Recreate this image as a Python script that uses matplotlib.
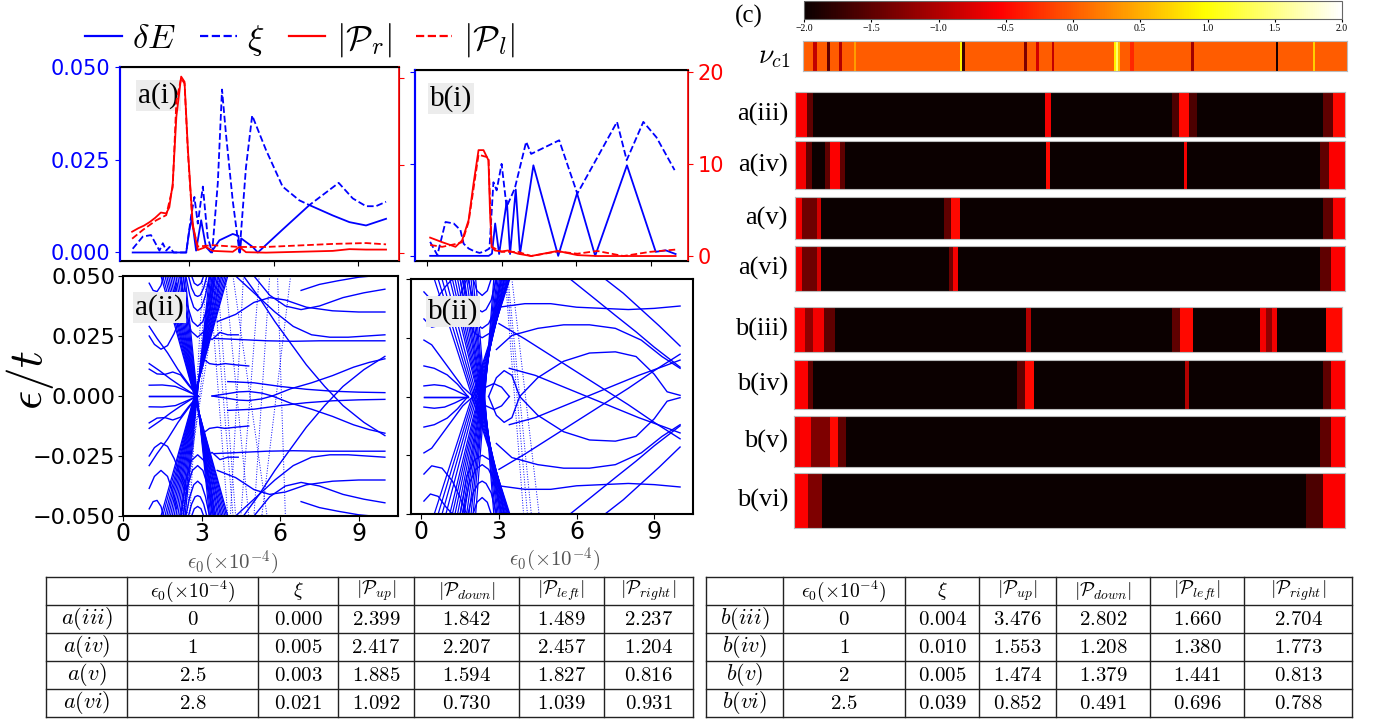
import numpy as np
import matplotlib
matplotlib.use("Agg")
import matplotlib.pyplot as plt
from matplotlib.lines import Line2D

plt.rcParams["mathtext.fontset"] = "cm"

W, H = 1379, 721
SERIF = "Liberation Serif"

# ---------------- a(i) / b(i) data ----------------
ai_dE_x = [1.0, 2.9, 3.01, 3.1, 3.25, 3.37, 3.43, 3.6, 3.78, 4.08, 4.55, 4.75, 4.81, 4.85, 5.26, 5.44, 6.32, 7.27, 8.1, 8.69, 9.28, 9.99]
ai_dE_y = [0.0, 0.0, 0.006, 0.0092, 0.0005, 0.006, 0.0087, 0.0015, 0.0, 0.0033, 0.005, 0.0045, 0.0, 0.0038, 0.0015, 0.0, 0.0062, 0.0128, 0.010, 0.0082, 0.0073, 0.0091]
ai_xi_x = [1.0, 1.36, 1.65, 1.95, 2.07, 2.19, 2.31, 2.45, 2.9, 3.07, 3.19, 3.31, 3.49, 3.66, 3.82, 4.02, 4.17, 4.31, 4.55, 4.79, 5.02, 5.24, 5.73, 6.32, 6.91, 7.27, 8.31, 8.81, 9.28, 9.63, 9.99]
ai_xi_y = [0.001, 0.0043, 0.0047, 0.0005, 0.0025, 0.0005, 0.0015, 0.0, 0.0, 0.0097, 0.015, 0.0078, 0.0178, 0.0042, 0.0, 0.0187, 0.044, 0.032, 0.014, 0.0, 0.023, 0.037, 0.0277, 0.0178, 0.0141, 0.0128, 0.0188, 0.0146, 0.0125, 0.0125, 0.0137]
ai_pr_x = [0.98, 1.2, 1.4, 1.6, 1.8, 2.0, 2.19, 2.3, 2.42, 2.55, 2.72, 2.84, 2.96, 3.13, 3.31, 3.6, 3.84, 4.55, 4.79, 5.02, 5.73, 8.1, 8.69, 9.28, 9.99]
ai_pr_y = [2.4, 2.8, 3.1, 3.5, 4.0, 4.6, 4.5, 5.2, 7.9, 15.6, 20.2, 19.6, 11.8, 3.3, 0.3, 0.65, 0.2, 0.1, 0.65, 0.05, 0.0, 0.2, 0.4, 0.35, 0.35]
ai_pl_x = [0.98, 1.36, 1.83, 2.19, 2.42, 2.55, 2.72, 2.84, 2.96, 3.13, 3.31, 3.84, 4.79, 5.73, 8.1, 9.28, 9.99]
ai_pl_y = [1.6, 2.6, 3.7, 4.3, 7.5, 17.4, 20.0, 19.4, 11.5, 3.0, 0.7, 0.85, 0.65, 0.65, 1.0, 1.1, 0.95]

bi_dE_x = [0.11, 2.47, 2.6, 2.73, 2.89, 3.2, 3.33, 3.56, 3.73, 4.27, 5.27, 6.03, 6.76, 8.04, 9.2, 9.6, 10.0]
bi_dE_y = [0.0, 0.0, 0.0006, 0.0088, 0.0005, 0.015, 0.0005, 0.018, 0.0005, 0.0246, 0.0, 0.017, 0.0, 0.0246, 0.0011, 0.0015, 0.0005]
bi_xi_x = [0.11, 0.4, 0.73, 1.06, 1.33, 1.46, 1.66, 1.9, 2.1, 2.3, 2.5, 2.66, 2.79, 2.99, 3.19, 3.52, 3.98, 4.18, 5.31, 6.04, 7.64, 8.03, 8.7, 9.23, 9.96]
bi_xi_y = [0.0038, 0.0002, 0.0092, 0.0088, 0.007, 0.0033, 0.002, 0.0012, 0.0008, 0.0012, 0.002, 0.020, 0.0178, 0.025, 0.0133, 0.0183, 0.031, 0.0277, 0.0314, 0.0169, 0.0364, 0.026, 0.0364, 0.0322, 0.0233]
bi_pr_x = [0.11, 0.6, 1.13, 1.4, 1.66, 1.86, 2.06, 2.26, 2.46, 2.52, 2.59, 2.72, 2.99, 3.25, 3.65, 4.18, 5.25, 6.04, 6.84, 7.9, 10.0]
bi_pr_y = [2.0, 1.5, 1.0, 1.7, 3.9, 7.9, 11.5, 11.5, 10.4, 5.0, 1.0, 0.6, 0.5, 0.6, 0.25, 0.0, 0.55, 0.1, 0.0, 0.0, 0.0]
bi_pl_x = [0.11, 0.6, 1.13, 1.4, 1.66, 2.06, 2.46, 2.59, 2.99, 3.65, 4.18, 5.25, 6.04, 6.84, 7.9, 8.96, 10.0]
bi_pl_y = [1.2, 1.0, 1.3, 1.5, 3.7, 11.0, 10.7, 1.0, 0.45, 0.45, 0.0, 0.5, 0.25, 0.55, 0.0, 0.45, 0.7]

# ---------------- a(ii) / b(ii) spectra (upper half, mirrored) ----------------
aii_curves = [
    ([1.0, 1.4, 1.8, 2.2, 2.6, 2.85], [0.0135, 0.0105, 0.0072, 0.0042, 0.0014, 0.0]),
    ([1.0, 1.3, 1.6, 1.9, 2.2, 2.5, 2.85], [0.0112, 0.0092, 0.0090, 0.0100, 0.0088, 0.0045, 0.0]),
    ([1.0, 1.5, 2.0, 2.4, 2.85], [0.0045, 0.0046, 0.0040, 0.0022, 0.0]),
    ([1.0, 2.85], [0.0, 0.0]),
    ([1.0, 1.3, 1.7, 2.1, 2.5, 2.85], [0.029, 0.024, 0.018, 0.011, 0.005, 0.0]),
    ([1.0, 1.2, 1.45, 1.7, 1.95, 2.2, 2.4], [0.025, 0.0215, 0.0195, 0.021, 0.026, 0.033, 0.039]),
    ([1.0, 1.2, 1.45, 1.7, 1.9, 2.05], [0.0385, 0.0335, 0.031, 0.0335, 0.040, 0.047]),
    ([1.0, 1.15, 1.3, 1.45, 1.55], [0.047, 0.044, 0.0435, 0.046, 0.05]),
    ([2.2, 2.4, 2.6, 2.85, 3.1, 3.3, 3.5], [0.05, 0.035, 0.027, 0.0245, 0.027, 0.035, 0.05]),
    ([2.3, 2.45, 2.65, 2.85, 3.05, 3.25, 3.45], [0.05, 0.038, 0.031, 0.029, 0.031, 0.038, 0.05]),
    ([2.4, 2.55, 2.7, 2.85, 3.0, 3.15, 3.3], [0.05, 0.042, 0.037, 0.0355, 0.037, 0.042, 0.05]),
    ([2.5, 2.62, 2.75, 2.85, 2.95, 3.08, 3.2], [0.05, 0.045, 0.042, 0.0415, 0.042, 0.045, 0.05]),
    ([2.62, 2.72, 2.85, 2.98, 3.08], [0.05, 0.047, 0.046, 0.047, 0.05]),
    ([3.0, 3.3, 3.6, 3.9, 4.3, 4.8], [0.016, 0.0135, 0.013, 0.0135, 0.013, 0.0125]),
    ([3.1, 3.4, 3.7, 4.0, 4.4], [0.026, 0.0235, 0.0265, 0.0255, 0.0255]),
    ([3.4, 4.0, 4.4, 4.8, 5.3, 5.7], [0.0, 0.001, 0.0017, 0.0019, 0.0012, 0.0]),
    ([3.5, 4.5, 5.5, 6.5, 7.5, 8.5, 10.0], [0.024, 0.0235, 0.023, 0.0228, 0.023, 0.023, 0.023]),
    ([4.3, 5.0, 5.8, 6.5, 7.2, 7.9, 8.6, 9.3, 10.0], [0.05, 0.043, 0.035, 0.029, 0.0255, 0.0245, 0.0245, 0.025, 0.0255]),
    ([3.6, 4.3, 5.0, 5.6, 6.2, 7.0, 8.0, 9.0, 10.0], [0.031, 0.034, 0.039, 0.041, 0.040, 0.037, 0.0355, 0.035, 0.035]),
    ([5.0, 5.6, 6.2, 6.8, 7.5, 8.4, 9.2, 10.0], [0.05, 0.042, 0.0375, 0.036, 0.0375, 0.041, 0.043, 0.0445]),
    ([6.8, 7.5, 8.2, 9.0, 10.0], [0.044, 0.0465, 0.048, 0.0495, 0.0505]),
    ([4.6, 5.2, 5.8, 6.4, 7.0, 7.7, 8.4, 9.2, 10.0], [0.05, 0.041, 0.031, 0.022, 0.013, 0.004, -0.004, -0.011, -0.0165]),
    ([5.7, 6.4, 7.2, 8.0, 8.8, 9.4, 10.0], [0.0, 0.003, 0.0055, 0.0085, 0.012, 0.014, 0.0155]),
    ([4.0, 5.0, 6.0, 7.0, 8.0, 9.0, 10.0], [0.006, 0.0055, 0.004, 0.0028, 0.002, 0.0016, 0.0014]),
]
aii_fan_top = [1.45, 1.52, 1.6, 1.67, 1.74, 1.81, 1.88, 1.95, 2.02, 2.09, 2.16, 2.23, 2.3, 2.37]
aii_fan_bot = [4.0, 3.95, 3.89, 3.83, 3.77, 3.72, 3.66, 3.61, 3.55, 3.5, 3.45, 3.4, 3.35, 3.3]
aii_dot_top = [3.6, 3.9, 4.2, 4.6, 5.2, 5.6, 6.4, 5.9, 3.3, 3.45, 3.05, 3.2, 3.5, 3.7]
aii_dot_bot = [4.3, 4.8, 5.5, 4.1, 4.5, 5.0, 5.3, 6.2, 4.0, 4.2, 2.55, 2.45, 2.35, 2.25]

bii_curves = [
    ([0.1, 0.5, 1.0, 1.4, 1.8], [0.013, 0.012, 0.0092, 0.0052, 0.0]),
    ([0.1, 0.5, 0.9, 1.3, 1.8], [0.0045, 0.005, 0.0045, 0.0027, 0.0]),
    ([0.1, 1.8], [0.0, 0.0]),
    ([0.1, 0.4, 0.8, 1.2, 1.6, 2.0], [0.024, 0.022, 0.016, 0.010, 0.004, 0.0]),
    ([0.1, 0.4, 0.8, 1.2, 1.5, 1.75], [0.033, 0.0295, 0.0305, 0.036, 0.043, 0.05]),
    ([0.1, 0.35, 0.65, 0.95, 1.2], [0.0445, 0.0415, 0.0425, 0.047, 0.05]),
    ([2.2, 2.5, 2.8, 3.1, 3.4], [0.0, 0.004, 0.0055, 0.004, 0.0]),
    ([2.6, 2.9, 3.2, 3.5, 3.8], [0.0, 0.008, 0.011, 0.009, 0.0]),
    ([1.5, 1.75, 2.05, 2.35, 2.65, 2.95, 3.2], [0.05, 0.034, 0.027, 0.025, 0.027, 0.034, 0.05]),
    ([1.6, 1.85, 2.1, 2.35, 2.6, 2.85, 3.1], [0.05, 0.037, 0.031, 0.029, 0.031, 0.037, 0.05]),
    ([1.8, 2.0, 2.2, 2.35, 2.5, 2.7, 2.9], [0.05, 0.041, 0.037, 0.036, 0.037, 0.041, 0.05]),
    ([2.0, 2.15, 2.35, 2.55, 2.7], [0.05, 0.045, 0.043, 0.045, 0.05]),
    ([3.0, 4.0, 5.0, 6.0, 7.0, 8.0, 9.0, 10.0], [0.038, 0.0395, 0.0395, 0.038, 0.0375, 0.037, 0.0375, 0.0385]),
    ([2.9, 3.5, 4.5, 5.5, 6.5, 7.5, 8.5, 9.3, 10.0], [0.020, 0.026, 0.029, 0.0305, 0.0305, 0.029, 0.024, 0.017, 0.012]),
    ([3.8, 4.5, 5.5, 6.5, 7.5, 8.3, 9.0, 9.5, 10.0], [0.0, 0.008, 0.015, 0.0185, 0.019, 0.017, 0.0095, 0.002, 0.0005]),
    ([5.75, 6.6, 7.5, 8.3, 9.0, 10.0], [0.05, 0.0425, 0.0345, 0.0275, 0.021, 0.0125]),
    ([7.1, 7.8, 8.5, 9.2, 10.0], [0.05, 0.044, 0.037, 0.030, 0.0215]),
    ([3.0, 4.0, 5.0, 6.0, 7.0, 8.0, 9.0, 10.0], [0.031, 0.0245, 0.0175, 0.0105, 0.0035, -0.0035, -0.011, -0.018]),
    ([3.4, 4.4, 5.4, 6.4, 7.4, 8.4, 9.4, 10.0], [0.012, 0.009, 0.0045, 0.0, -0.0045, -0.009, -0.013, -0.0155]),
]
bii_fan_top = [0.5, 0.65, 0.8, 0.95, 1.1, 1.2, 1.3, 1.4, 1.5, 1.58, 1.66, 1.75, 1.84, 1.92, 2.0, 2.1]
bii_fan_bot = [3.42, 3.39, 3.36, 3.33, 3.3, 3.26, 3.22, 3.18, 3.14, 3.1, 3.06, 3.02, 2.97, 2.92, 2.86, 2.8]
bii_dot_top = [3.25, 3.35, 3.5, 3.3]
bii_dot_bot = [3.95, 4.25, 4.55, 4.1]

# ---------------- panel (c) data ----------------
cb_ticks = [-2.0, -1.5, -1.0, -0.5, 0.0, 0.5, 1.0, 1.5, 2.0]
nu_base = 0.0
nu_bands = [(0.018, 0.025, -0.9), (0.045, 0.05, -1.5), (0.066, 0.071, -1.0), (0.093, 0.097, 0.4),
            (0.288, 0.292, 0.9), (0.292, 0.297, -1.7), (0.406, 0.411, -1.3), (0.429, 0.433, -0.8),
            (0.458, 0.462, -0.9), (0.571, 0.575, 0.9), (0.575, 0.579, 1.4), (0.579, 0.583, 0.6),
            (0.602, 0.608, -0.3), (0.713, 0.718, -1.1), (0.869, 0.874, -1.9), (0.938, 0.942, 0.7)]
strip_names = ["a(iii)", "a(iv)", "a(v)", "a(vi)", "b(iii)", "b(iv)", "b(v)", "b(vi)"]
strip_bands = [
    [(0, 0.022, -0.55), (0.022, 0.032, -1.5), (0.455, 0.466, -0.6), (0.685, 0.73, -1.6),
     (0.698, 0.716, -0.5), (0.96, 0.978, -1.5), (0.978, 1.0, -0.5)],
    [(0, 0.02, -0.6), (0.02, 0.03, -1.5), (0.055, 0.09, -1.5), (0.063, 0.082, -0.55),
     (0.457, 0.463, -0.5), (0.707, 0.713, -0.6), (0.955, 0.97, -1.5), (0.97, 1.0, -0.55)],
    [(0, 0.012, -0.6), (0.012, 0.04, -1.4), (0.04, 0.048, -0.8), (0.27, 0.283, -1.5),
     (0.283, 0.3, -0.5), (0.96, 0.978, -1.5), (0.978, 1.0, -0.55)],
    [(0, 0.013, -0.6), (0.013, 0.04, -1.4), (0.04, 0.047, -0.8), (0.28, 0.288, -1.4),
     (0.288, 0.297, -0.6), (0.955, 0.975, -1.5), (0.975, 1.0, -0.55)],
    [(0, 0.02, -0.55), (0.02, 0.035, -1.2), (0.035, 0.055, -0.6), (0.055, 0.075, -1.5),
     (0.424, 0.432, -1.0), (0.69, 0.705, -1.5), (0.705, 0.728, -0.5), (0.85, 0.862, -0.6),
     (0.862, 0.872, -1.2), (0.872, 0.882, -0.6), (0.97, 1.0, -0.5)],
    [(0, 0.025, -0.55), (0.025, 0.035, -1.5), (0.405, 0.42, -1.5), (0.42, 0.435, -0.5),
     (0.71, 0.716, -1.0), (0.96, 0.975, -1.5), (0.975, 1.0, -0.55)],
    [(0, 0.01, -0.7), (0.01, 0.03, -0.55), (0.03, 0.065, -1.3), (0.065, 0.08, -0.5),
     (0.08, 0.095, -1.5), (0.955, 0.975, -1.5), (0.975, 1.0, -0.55)],
    [(0, 0.025, -0.55), (0.025, 0.05, -1.3), (0.93, 0.96, -1.6), (0.96, 1.0, -0.55)],
]

# ---------------- tables ----------------
tab_headers = [r"$\epsilon_0(\times10^{-4})$", r"$\xi$", r"$|\mathcal{P}_{up}|$",
               r"$|\mathcal{P}_{down}|$", r"$|\mathcal{P}_{left}|$", r"$|\mathcal{P}_{right}|$"]
ta_rows = ["a(iii)", "a(iv)", "a(v)", "a(vi)"]
ta_eps = ["0", "1", "2.5", "2.8"]
ta_xi = [0.000, 0.005, 0.003, 0.021]
ta_up = [2.399, 2.417, 1.885, 1.092]
ta_down = [1.842, 2.207, 1.594, 0.730]
ta_left = [1.489, 2.457, 1.827, 1.039]
ta_right = [2.237, 1.204, 0.816, 0.931]
tb_rows = ["b(iii)", "b(iv)", "b(v)", "b(vi)"]
tb_eps = ["0", "1", "2", "2.5"]
tb_xi = [0.004, 0.010, 0.005, 0.039]
tb_up = [3.476, 1.553, 1.474, 0.852]
tb_down = [2.802, 1.208, 1.379, 0.491]
tb_left = [1.660, 1.380, 1.441, 0.696]
tb_right = [2.704, 1.773, 0.813, 0.788]


def rect(x0, y0, x1, y1):
    return [x0 / W, 1 - y1 / H, (x1 - x0) / W, (y1 - y0) / H]


fig = plt.figure(figsize=(W / 100, H / 100), dpi=100)

# overlay in pixel coordinates for free text and tables
ov = fig.add_axes([0, 0, 1, 1])
ov.set_xlim(0, W)
ov.set_ylim(H, 0)
ov.axis("off")


def panel_label(ax, s, x, y):
    ax.text(x, y, s, transform=ax.transAxes, family=SERIF, fontsize=21, va="top", ha="left",
            bbox=dict(facecolor="#ececec", edgecolor="none", pad=1.5), zorder=5)


def top_panel(ax, xs, ylim_b, ylim_r, d, show_left, show_right, xticks):
    tw = ax.twinx()
    ax.plot(d[0], d[1], color="blue", lw=1.3)
    ax.plot(d[2], d[3], color="blue", lw=1.3, ls="--")
    tw.plot(d[4], d[5], color="red", lw=1.3)
    tw.plot(d[6], d[7], color="red", lw=1.3, ls="--")
    ax.set_xlim(*xs)
    ax.set_ylim(*ylim_b)
    tw.set_ylim(*ylim_r)
    ax.set_xticks(xticks)
    ax.tick_params(axis="x", labelbottom=False)
    ax.set_yticks([0, 0.025, 0.05])
    ax.tick_params(axis="y", colors="blue", labelsize=15, labelleft=show_left)
    if show_left:
        ax.set_yticklabels(["0.000", "0.025", "0.050"])
    tw.set_yticks([0, 10, 20])
    tw.tick_params(axis="y", colors="red", labelsize=15, labelright=show_right)
    ax.spines["left"].set_color("blue")
    tw.spines["left"].set_color("blue")
    tw.spines["right"].set_color("red")
    for s in ["top", "bottom"]:
        ax.spines[s].set_linewidth(1.5)
    ax.spines["left"].set_linewidth(1.5)
    tw.spines["left"].set_linewidth(1.5)
    tw.spines["right"].set_linewidth(1.2)
    return tw


ax_ai = fig.add_axes(rect(120, 67, 399, 261))
top_panel(ax_ai, (0.55, 10.45), (-0.0023, 0.0501), (-0.96, 21.3),
          (ai_dE_x, ai_dE_y, ai_xi_x, ai_xi_y, ai_pr_x, ai_pr_y, ai_pl_x, ai_pl_y),
          True, False, [3, 6, 9])
panel_label(ax_ai, "a(i)", 0.065, 0.92)

ax_bi = fig.add_axes(rect(415, 70, 688, 261))
top_panel(ax_bi, (-0.5, 10.5), (-0.0014, 0.0505), (-0.54, 20.2),
          (bi_dE_x, bi_dE_y, bi_xi_x, bi_xi_y, bi_pr_x, bi_pr_y, bi_pl_x, bi_pl_y),
          False, True, [0, 3, 6, 9])
panel_label(ax_bi, "b(i)", 0.055, 0.92)


def spectrum(ax, curves, fan_t, fan_b, dot_t, dot_b, xlim):
    for xs, ys in curves:
        ax.plot(xs, ys, color="blue", lw=1.0)
        ax.plot(xs, [-v for v in ys], color="blue", lw=1.0)
    for t, b in zip(fan_t, fan_b):
        ax.plot([t, b], [0.05, -0.05], color="blue", lw=0.9)
        ax.plot([t, b], [-0.05, 0.05], color="blue", lw=0.9)
    for t, b in zip(dot_t, dot_b):
        ax.plot([t, b], [0.05, -0.05], color="blue", lw=0.7, ls=":")
    ax.set_xlim(*xlim)
    ax.set_ylim(-0.05, 0.05)
    ax.set_xticks([0, 3, 6, 9])
    ax.set_yticks([-0.05, -0.025, 0, 0.025, 0.05])
    ax.tick_params(labelsize=17, pad=1)
    for s in ax.spines.values():
        s.set_linewidth(1.5)
    ax.set_xlabel(r"$\epsilon_0(\times10^{-4})$", fontsize=15, color="#555555")


ax_aii = fig.add_axes(rect(123, 276, 398, 516))
spectrum(ax_aii, aii_curves, aii_fan_top, aii_fan_bot, aii_dot_top, aii_dot_bot, (0, 10.5))
ax_aii.set_yticklabels(["\u22120.050", "\u22120.025", "0.000", "0.025", "0.050"])
ax_aii.tick_params(axis="y", labelsize=16, pad=2)
ax_aii.xaxis.set_label_coords(0.4, -0.135)
panel_label(ax_aii, "a(ii)", 0.045, 0.925)

ax_bii = fig.add_axes(rect(411, 279, 693, 514))
spectrum(ax_bii, bii_curves, bii_fan_top, bii_fan_bot, bii_dot_top, bii_dot_bot, (-0.4, 10.5))
ax_bii.tick_params(axis="y", labelleft=False)
ax_bii.xaxis.set_label_coords(0.51, -0.135)
panel_label(ax_bii, "b(ii)", 0.06, 0.92)

ov.text(30, 380, r"$\epsilon/t$", fontsize=34, rotation=90, ha="center", va="center")

# legend across the top
handles = [Line2D([], [], color="blue", lw=1.6), Line2D([], [], color="blue", lw=1.6, ls="--"),
           Line2D([], [], color="red", lw=1.6), Line2D([], [], color="red", lw=1.6, ls="--")]
labels = [r"$\delta E$", r"$\xi$", r"$|\mathcal{P}_r|$", r"$|\mathcal{P}_l|$"]
fig.legend(handles, labels, loc="center", bbox_to_anchor=(300 / W, 1 - 40 / H), ncol=4,
           frameon=False, fontsize=25, handlelength=1.05, handletextpad=0.3,
           columnspacing=0.7, borderpad=0)

# ---------------- panel (c) ----------------
cmap = plt.get_cmap("hot")
norm = plt.Normalize(-2, 2)
ov.text(735, 16, "(c)", family=SERIF, fontsize=18, ha="left", va="center")
cax = fig.add_axes(rect(804, 1, 1342, 19))
cb = fig.colorbar(plt.cm.ScalarMappable(norm=norm, cmap=cmap), cax=cax,
                  orientation="horizontal", ticks=cb_ticks)
cb.ax.tick_params(labelsize=7, length=2, pad=1.5)
cb.ax.set_xticklabels([f"{v:.1f}".replace("-", "\u2212") for v in cb_ticks], family=SERIF)
cb.outline.set_edgecolor("#666666")


def strip(box, base, bands):
    ax = fig.add_axes(rect(*box))
    ax.set_facecolor(cmap(norm(base)))
    for a, b, v in bands:
        ax.axvspan(a, b, color=cmap(norm(v)), lw=0)
    ax.set_xlim(0, 1)
    ax.set_xticks([])
    ax.set_yticks([])
    for s in ax.spines.values():
        s.set_edgecolor("#bbbbbb")
        s.set_linewidth(0.8)
    return ax


strip((803, 41, 1347, 71), nu_base, nu_bands)
ov.text(790, 56, r"$\nu_{c1}$", fontsize=20, ha="right", va="center")

strip_boxes = [(795, 92, 1345, 137), (795, 141, 1345, 189), (795, 197, 1345, 239),
               (795, 246, 1345, 291), (794, 307, 1342, 352), (794, 360, 1345, 409),
               (794, 416, 1345, 467), (794, 473, 1345, 528)]
for name, box, bands in zip(strip_names, strip_boxes, strip_bands):
    strip(box, -2.0, bands)
    ov.text(788, (box[1] + box[3]) / 2, name, family=SERIF, fontsize=19, ha="right", va="center")


# ---------------- tables ----------------
def table(cols, rows_y, names, eps, xi, up, down, left, right):
    for x in cols:
        ov.plot([x, x], [rows_y[0], rows_y[-1]], color="#222222", lw=1.0)
    for y in rows_y:
        ov.plot([cols[0], cols[-1]], [y, y], color="#222222", lw=1.0)
    cx = [(cols[i] + cols[i + 1]) / 2 for i in range(len(cols) - 1)]
    cy = [(rows_y[i] + rows_y[i + 1]) / 2 for i in range(len(rows_y) - 1)]
    for j, h in enumerate(tab_headers):
        ov.text(cx[j + 1], cy[0], h, fontsize=14, ha="center", va="center")
    for i in range(len(names)):
        vals = [eps[i], f"{xi[i]:.3f}", f"{up[i]:.3f}", f"{down[i]:.3f}",
                f"{left[i]:.3f}", f"{right[i]:.3f}"]
        ov.text(cx[0], cy[i + 1], "$" + names[i] + "$", fontsize=16, ha="center", va="center")
        for j, v in enumerate(vals):
            ov.text(cx[j + 1], cy[i + 1], "$" + v + "$", fontsize=15, ha="center", va="center")


rows_y = [577, 605, 633, 661, 689, 717]
table([46, 127, 258, 338, 414, 519, 604, 693], rows_y, ta_rows, ta_eps, ta_xi, ta_up, ta_down,
      ta_left, ta_right)
table([706, 783, 905, 979, 1056, 1150, 1244, 1352], rows_y, tb_rows, tb_eps, tb_xi, tb_up,
      tb_down, tb_left, tb_right)

fig.savefig("out.png", dpi=100)
